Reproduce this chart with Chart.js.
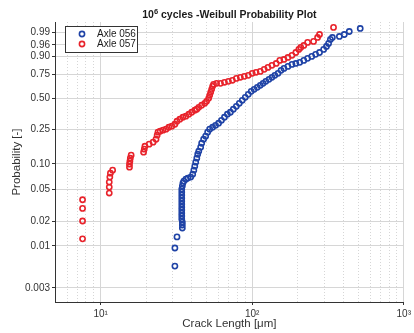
<!DOCTYPE html>
<html>
<head>
<meta charset="utf-8">
<script src="https://cdn.jsdelivr.net/npm/chart.js@4.4.1/dist/chart.umd.min.js"></script>
<style>
  html, body { margin: 0; padding: 0; background: #fff; }
</style>
</head>
<body>
<canvas id="weibullChart" width="414" height="333"></canvas>
<script>
// crack length [um] / probability
const axle056Length = [30.9, 30.9, 31.9, 34.6, 34.6, 34.6, 34.3, 34.3, 34.3, 34.3, 34.3, 34.3, 34.3, 34.3, 34.3, 34.3, 34.3, 34.6, 34.9, 35.4,
  36.5, 37.6, 39.3, 40.5, 41.2, 41.8, 42.4, 43.1, 43.7, 44.4, 45.7, 46.4, 47.8, 49.3, 50.8, 52.4, 54.8, 57.3, 60.0, 62.7,
  65.6, 68.6, 71.8, 75.1, 78.6, 82.2, 86.0, 90.0, 94.2, 98.5, 103, 108, 113, 118, 123, 129, 135, 141, 148, 155,
  162, 172, 183, 194, 206, 219, 232, 247, 262, 278, 296, 309, 319, 328, 338, 376, 405, 437, 516];
const axle056Prob = [0.0056, 0.0094, 0.0129, 0.0166, 0.0181, 0.0197, 0.0214, 0.0234, 0.0254, 0.0277, 0.0301, 0.0328, 0.0357, 0.0388, 0.0422, 0.0459, 0.0499, 0.0543, 0.0590, 0.0624,
  0.0659, 0.0678, 0.0697, 0.0757, 0.0845, 0.0943, 0.105, 0.117, 0.130, 0.141, 0.157, 0.174, 0.193, 0.209, 0.231, 0.249, 0.261, 0.274, 0.288, 0.309,
  0.332, 0.356, 0.372, 0.398, 0.424, 0.452, 0.481, 0.511, 0.541, 0.572, 0.593, 0.614, 0.635, 0.656, 0.677, 0.698, 0.719, 0.739, 0.759, 0.788,
  0.806, 0.824, 0.841, 0.849, 0.858, 0.873, 0.888, 0.901, 0.914, 0.925, 0.941, 0.954, 0.965, 0.977, 0.9815, 0.9835, 0.987, 0.9912, 0.9943];

const axle057Length = [7.6, 7.6, 7.6, 7.6, 11.4, 11.4, 11.4, 11.5, 11.6, 12.0, 15.5, 15.5, 15.6, 15.7, 15.9, 19.2, 19.4, 19.6, 20.9, 22.2,
  23.2, 23.6, 23.9, 24.7, 25.8, 27.0, 28.2, 29.5, 30.9, 31.9, 33.3, 34.9, 36.5, 38.2, 39.9, 41.8, 43.1, 44.4, 46.4, 48.6,
  50.0, 51.6, 52.4, 53.2, 54.0, 54.8, 55.6, 58.2, 61.8, 65.6, 69.7, 74.0, 78.6, 83.5, 88.7, 94.2, 100, 106, 113, 120,
  127, 135, 144, 152, 162, 172, 183, 194, 203, 209, 219, 232, 254, 270, 278, 344];
const axle057Prob = [0.0122, 0.0203, 0.0290, 0.0370, 0.0447, 0.0528, 0.0607, 0.0697, 0.0778, 0.0845, 0.0917, 0.0995, 0.108, 0.117, 0.127, 0.1375, 0.149, 0.161, 0.170, 0.179,
  0.193, 0.214, 0.231, 0.237, 0.243, 0.249, 0.261, 0.268, 0.281, 0.302, 0.317, 0.332, 0.340, 0.356, 0.372, 0.389, 0.398, 0.415, 0.434, 0.452,
  0.471, 0.501, 0.531, 0.562, 0.593, 0.625, 0.646, 0.656, 0.656, 0.667, 0.677, 0.688, 0.708, 0.719, 0.729, 0.739, 0.759, 0.769, 0.778, 0.797,
  0.815, 0.833, 0.849, 0.873, 0.880, 0.894, 0.908, 0.925, 0.941, 0.950, 0.958, 0.9685, 0.9715, 0.9815, 0.987, 0.9951];

const yTickValues = [0.003, 0.01, 0.02, 0.05, 0.10, 0.25, 0.50, 0.75, 0.90, 0.96, 0.99];
const yTickLabels = ['0.003', '0.01', '0.02', '0.05', '0.10', '0.25', '0.50', '0.75', '0.90', '0.96', '0.99'];
const xMajorTicks = [10, 100, 1000];
const xMajorLabels = ['10\u00b9', '10\u00b2', '10\u00b3'];
const xMinorTicks = [6, 7, 8, 9, 20, 30, 40, 50, 60, 70, 80, 90, 200, 300, 400, 500, 600, 700, 800, 900];

const BLUE = '#1f43a6';
const RED = '#e8232b';
const FONT = '"Liberation Sans", Arial, Helvetica, sans-serif';

// Weibull probability paper: ln(-ln(1-p))
const weibullT = p => Math.log(-Math.log(1 - p));

class WeibullScale extends Chart.LinearScale {
    determineDataLimits() {
        this.min = this.options.min;
        this.max = this.options.max;
    }
    buildTicks() {
        return yTickValues.map(v => ({ value: v }));
    }
    configure() {
        super.configure();
        this._wMin = weibullT(this.min);
        this._wRange = weibullT(this.max) - this._wMin;
    }
    getPixelForValue(value) {
        return this.getPixelForDecimal((weibullT(value) - this._wMin) / this._wRange);
    }
    getValueForPixel(pixel) {
        const w = this._wMin + this.getDecimalForPixel(pixel) * this._wRange;
        return 1 - Math.exp(-Math.exp(w));
    }
}
WeibullScale.id = 'weibull';
WeibullScale.defaults = Chart.LinearScale.defaults;
Chart.register(WeibullScale);

const toPoints = (xs, ys) => xs.map((x, i) => ({ x: x, y: ys[i] }));

// title (with superscript) and boxed legend, like the matlab figure
const figureDecor = {
    id: 'figureDecor',
    afterDraw(chart) {
        const ctx = chart.ctx;
        const area = chart.chartArea;
        ctx.save();

        // title
        const big = 'bold 10.5px ' + FONT;
        const small = 'bold 7.5px ' + FONT;
        const rest = ' cycles -Weibull Probability Plot';
        ctx.font = big;
        const w1 = ctx.measureText('10').width;
        const w3 = ctx.measureText(rest).width;
        ctx.font = small;
        const w2 = ctx.measureText('6').width;
        let tx = (area.left + area.right) / 2 - (w1 + w2 + w3) / 2;
        const ty = 18;
        ctx.fillStyle = '#1a1a1a';
        ctx.textBaseline = 'alphabetic';
        ctx.textAlign = 'left';
        ctx.font = big;
        ctx.fillText('10', tx, ty);
        ctx.font = small;
        ctx.fillText('6', tx + w1, ty - 4.5);
        ctx.font = big;
        ctx.fillText(rest, tx + w1 + w2, ty);

        // legend
        const lx = area.left + 10, ly = area.top + 4;
        ctx.fillStyle = '#fff';
        ctx.fillRect(lx, ly, 72, 26);
        ctx.strokeStyle = '#333';
        ctx.lineWidth = 1;
        ctx.strokeRect(lx + 0.5, ly + 0.5, 72, 26);
        ctx.font = '10px ' + FONT;
        ctx.textBaseline = 'middle';
        chart.data.datasets.forEach((ds, i) => {
            const cy = ly + 8 + i * 10;
            ctx.beginPath();
            ctx.arc(lx + 17, cy, 2.6, 0, Math.PI * 2);
            ctx.strokeStyle = ds.borderColor;
            ctx.lineWidth = 1.6;
            ctx.stroke();
            ctx.fillStyle = '#1a1a1a';
            ctx.fillText(ds.label, lx + 32, cy + 0.5);
        });
        ctx.restore();
    }
};

Chart.defaults.font.family = FONT;

new Chart(document.getElementById('weibullChart'), {
    type: 'scatter',
    data: {
        datasets: [
            {
                label: 'Axle 056',
                data: toPoints(axle056Length, axle056Prob),
                borderColor: BLUE,
                backgroundColor: 'rgba(0,0,0,0)',
                order: 1,
            },
            {
                label: 'Axle 057',
                data: toPoints(axle057Length, axle057Prob),
                borderColor: RED,
                backgroundColor: 'rgba(0,0,0,0)',
                order: 0,
            },
        ],
    },
    options: {
        responsive: false,
        animation: false,
        layout: {
            autoPadding: false,
            padding: { top: 22, right: 6, bottom: 0, left: 0 },
        },
        elements: {
            point: { radius: 2.6, borderWidth: 1.6, pointStyle: 'circle' },
        },
        plugins: {
            legend: { display: false },
            title: { display: false },
            tooltip: { enabled: false },
        },
        scales: {
            x: {
                type: 'logarithmic',
                min: 5,
                max: 1000,
                position: 'bottom',
                afterBuildTicks: s => { s.ticks = xMajorTicks.map(v => ({ value: v, major: true })); },
                afterFit: s => { s.height = 31; },
                ticks: {
                    autoSkip: false,
                    maxRotation: 0,
                    padding: 3,
                    color: '#333',
                    font: { size: 10 },
                    callback: (v, i) => xMajorLabels[i],
                },
                grid: { color: '#d6d6d6', tickColor: '#333', tickLength: 3 },
                border: { color: '#333' },
                title: {
                    display: true,
                    text: 'Crack Length [\u03bcm]',
                    color: '#333',
                    font: { size: 11.5 },
                    padding: { top: 0, bottom: 2 },
                },
            },
            xMinor: {
                type: 'logarithmic',
                min: 5,
                max: 1000,
                position: 'bottom',
                afterBuildTicks: s => { s.ticks = xMinorTicks.map(v => ({ value: v })); },
                afterFit: s => { s.height = 0; },
                ticks: { display: false },
                grid: { color: '#d6d6d6', drawTicks: false },
                border: { display: false, dash: [1, 2] },
            },
            y: {
                type: 'weibull',
                min: 0.002,
                max: 0.998,
                position: 'left',
                afterFit: s => { s.width = 55; },
                ticks: {
                    autoSkip: false,
                    padding: 2,
                    color: '#333',
                    font: { size: 10 },
                    callback: (v, i) => yTickLabels[i],
                },
                grid: { color: '#d6d6d6', tickColor: '#333', tickLength: 3 },
                border: { color: '#333' },
                title: {
                    display: true,
                    text: 'Probability [-]',
                    color: '#333',
                    font: { size: 11.5 },
                    padding: { top: 10, bottom: 0 },
                },
            },
        },
    },
    plugins: [figureDecor],
});
</script>
</body>
</html>
